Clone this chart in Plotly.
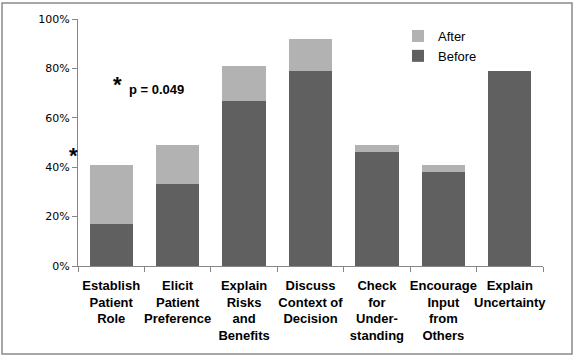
import plotly.graph_objects as go

categories = ["Establish<br>Patient<br>Role", "Elicit<br>Patient<br>Preference",
              "Explain<br>Risks<br>and<br>Benefits", "Discuss<br>Context of<br>Decision",
              "Check<br>for<br>Under-<br>standing", "Encourage<br>Input<br>from<br>Others",
              "Explain<br>Uncertainty"]
before = [0.17, 0.33, 0.67, 0.79, 0.46, 0.38, 0.79]
after_increment = [0.24, 0.16, 0.14, 0.13, 0.03, 0.03, 0.0]
y_ticks = [0, 0.2, 0.4, 0.6, 0.8, 1.0]

fig = go.Figure()
fig.add_bar(x=categories, y=before, name="Before", marker=dict(color="#606060", line=dict(width=0)))
fig.add_bar(x=categories, y=after_increment, name="After", marker=dict(color="#b2b2b2", line=dict(width=0)))

W, H = 575, 357
L, R, T, B = 78, 32, 19, 91
pw, ph = W - L - R, H - T - B

def px(x):
    return (x - L) / pw

def py(y):
    return (H - B - y) / ph

fig.update_layout(
    width=W, height=H, barmode="stack", bargap=0.35,
    margin=dict(l=L, r=R, t=T, b=B, autoexpand=False),
    paper_bgcolor="white", plot_bgcolor="white",
    font=dict(family="Liberation Sans, Arial", color="#000000"),
    showlegend=True,
    legend=dict(x=px(398), y=py(21), xanchor="left", yanchor="top", traceorder="reversed",
                font=dict(size=13, family="Liberation Sans, Arial"), bgcolor="rgba(0,0,0,0)",
                itemwidth=30, tracegroupgap=0),
    xaxis=dict(type="category", showline=True, linecolor="#868686", linewidth=1,
               ticks="outside", tickson="boundaries", ticklen=5, tickcolor="#868686",
               tickfont=dict(size=13, family="Liberation Sans, Arial", weight="bold"), tickangle=0,
               ticklabelstandoff=7, showgrid=False, automargin=False),
    yaxis=dict(range=[0, 1], tickvals=y_ticks, tickformat=".0%", showline=True,
               linecolor="#868686", linewidth=1, ticks="outside", ticklen=5, tickcolor="#868686",
               tickfont=dict(size=11, family="DejaVu Sans"), showgrid=False, zeroline=False,
               automargin=False),
    shapes=[dict(type="rect", xref="paper", yref="paper",
                 x0=px(2), x1=px(572), y0=py(354), y1=py(3),
                 line=dict(color="#8a8a8a", width=1.5))],
    annotations=[
        dict(text="<b>*</b>", x=px(73), y=py(155), xref="paper", yref="paper", showarrow=False,
             xanchor="center", yanchor="middle", font=dict(size=22, family="Liberation Sans, Arial")),
        dict(text="<b>*</b>", x=px(117), y=py(84), xref="paper", yref="paper", showarrow=False,
             xanchor="center", yanchor="middle", font=dict(size=22, family="Liberation Sans, Arial")),
        dict(text="<b>p = 0.049</b>", x=px(127), y=py(89), xref="paper", yref="paper",
             xanchor="left", yanchor="middle", showarrow=False,
             font=dict(size=13, family="Liberation Sans, Arial")),
    ],
)
fig.write_html("out.html", post_script="document.body.style.margin='0';",
               config={"displayModeBar": False})
